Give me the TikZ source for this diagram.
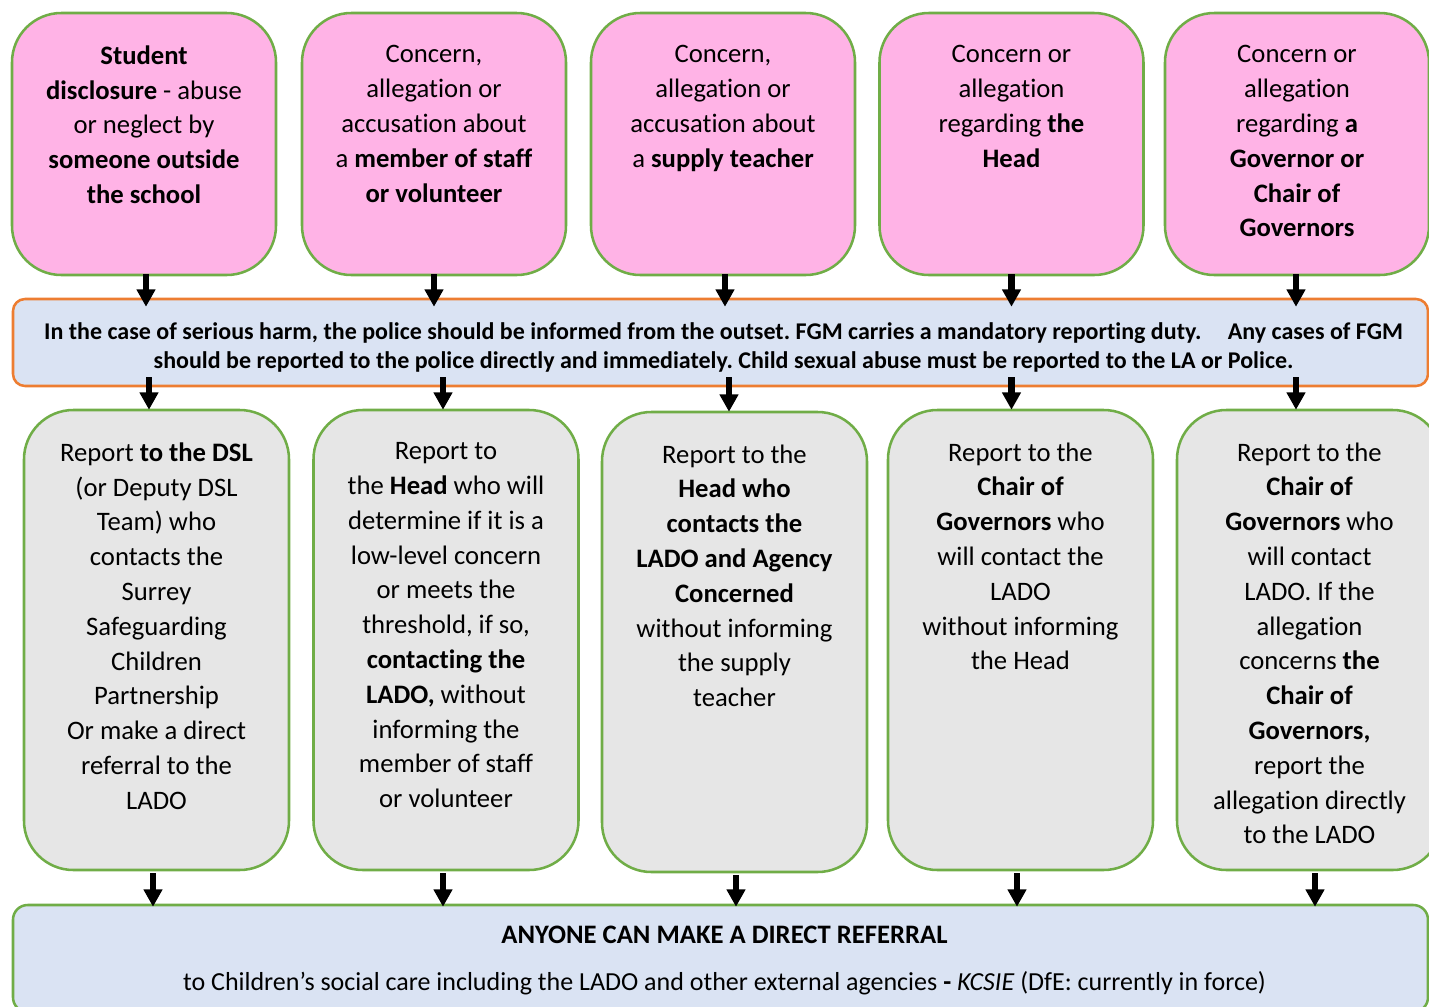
\documentclass[tikz,border=0pt]{standalone}
\usepackage{fontspec}
\setmainfont{Carlito}[Ligatures=NoCommon]
\usetikzlibrary{arrows.meta,calc}
\definecolor{pinkfill}{HTML}{FFB3E6}
\definecolor{grn}{HTML}{70AD47}
\definecolor{org}{HTML}{ED7D31}
\definecolor{bluefill}{HTML}{DAE3F3}
\definecolor{grayfill}{HTML}{E6E6E6}
\begin{document}
\frenchspacing
\begin{tikzpicture}[x=0.75pt,y=-0.75pt,
  topbox/.style={draw=grn,line width=1.9pt,fill=pinkfill,rounded corners=37pt,minimum width=198pt,minimum height=196.5pt,inner sep=0pt},
  midbox/.style={draw=grn,line width=1.9pt,fill=grayfill,rounded corners=37pt,minimum width=198.75pt,minimum height=345pt,inner sep=0pt},
  boxtxt/.style={anchor=north,align=center,inner sep=0pt,font=\fontsize{20}{26.1}\selectfont,execute at begin node=\strut},
  barbox/.style={draw=org,line width=1.9pt,fill=bluefill,rounded corners=9pt,minimum width=1061.25pt,minimum height=65.25pt,inner sep=0pt},
  bartxt/.style={inner sep=0pt,align=center,font=\fontsize{18}{21.75}\selectfont\bfseries},
  botbox/.style={draw=grn,line width=1.9pt,fill=bluefill,rounded corners=11pt,minimum width=1061.25pt,minimum height=80.25pt,inner sep=0pt},
  bottxt/.style={inner sep=0pt,align=center,font=\fontsize{19.5}{35.25}\selectfont},
  arr/.style={line width=4.8pt,-{Triangle[width=13.5pt,length=13pt]}}]
\path[use as bounding box] (0,0) rectangle (1429,1007);
\clip (0,0) rectangle (1429,1007);
% top boxes
\node[topbox] (t1) at (144,144) {};
\node[topbox] (t2) at (434,144) {};
\node[topbox] (t3) at (723,144) {};
\node[topbox] (t4) at (1011.5,144) {};
\node[topbox] (t5) at (1297,144) {};
\node[boxtxt] (t1x) at ([yshift=-25.25pt]t1.north) {\textbf{Student}\\\textbf{disclosure} - abuse\\or neglect by\\\textbf{someone outside}\\\textbf{the school}};
\node[boxtxt] (t2x) at ([yshift=-25.25pt]t2.north) {Concern,\\allegation or\\accusation about\\a \textbf{member of staff}\\\textbf{or volunteer}};
\node[boxtxt] (t3x) at ([yshift=-25.25pt]t3.north) {Concern,\\allegation or\\accusation about\\a \textbf{supply teacher}};
\node[boxtxt] (t4x) at ([yshift=-25.25pt]t4.north) {Concern or\\allegation\\regarding \textbf{the}\\\textbf{Head}};
\node[boxtxt] (t5x) at ([yshift=-25.25pt]t5.north) {Concern or\\allegation\\regarding \textbf{a}\\\textbf{Governor or}\\\textbf{Chair of}\\\textbf{Governors}};
% orange bar
\node[barbox] (bar) at (720.5,342.5) {};
\node[bartxt] (barx) at ([xshift=2.25pt,yshift=-3.4pt]bar.center) {In the case of serious harm, the police should be informed from the outset. FGM carries a mandatory reporting duty.\hspace{1.1em}Any cases of FGM\\should be reported to the police directly and immediately. Child sexual abuse must be reported to the LA or Police.};
% middle boxes
\node[midbox] (g1) at (156.5,640) {};
\node[midbox] (g2) at (446,640) {};
\node[midbox] (g3) at (734.5,642) {};
\node[midbox] (g4) at (1020.5,640) {};
\node[midbox] (g5) at (1309.5,640) {};
\node[boxtxt] (g1x) at ([yshift=-25.25pt]g1.north) {Report \textbf{to the DSL}\\(or Deputy DSL\\Team) who\\contacts the\\Surrey\\Safeguarding\\Children\\Partnership\\Or make a direct\\referral to the\\LADO};
\node[boxtxt] (g2x) at ([yshift=-25.25pt]g2.north) {Report to\\the \textbf{Head} who will\\determine if it is a\\low-level concern\\or meets the\\threshold, if so,\\\textbf{contacting the}\\\textbf{LADO,} without\\informing the\\member of staff\\or volunteer};
\node[boxtxt] (g3x) at ([yshift=-25.25pt]g3.north) {Report to the\\\textbf{Head who}\\\textbf{contacts the}\\\textbf{LADO and Agency}\\\textbf{Concerned}\\without informing\\the supply\\teacher};
\node[boxtxt] (g4x) at ([yshift=-25.25pt]g4.north) {Report to the\\\textbf{Chair of}\\\textbf{Governors} who\\will contact the\\LADO\\without informing\\the Head};
\node[boxtxt] (g5x) at ([yshift=-25.25pt]g5.north) {Report to the\\\textbf{Chair of}\\\textbf{Governors} who\\will contact\\LADO. If the\\allegation\\concerns \textbf{the}\\\textbf{Chair of}\\\textbf{Governors,}\\report the\\allegation directly\\to the LADO};
% bottom bar
\node[botbox] (bot) at (720.5,958.5) {};
\node[bottxt] (botx) at ([xshift=3pt,yshift=-1.5pt]bot.center) {{\fontsize{20}{35.25}\selectfont\textbf{ANYONE CAN MAKE A DIRECT REFERRAL}}\\to Children’s social care including the LADO and other external agencies \textbf{-} \textit{KCSIE} (DfE: currently in force)};
% arrows
\foreach \i/\a/\b/\c in {1/2/5/-3.5, 2/0/9/-3, 3/2/6/1.5, 4/0/0/-3.5, 5/-1/-1/5.5}{
  \draw[arr] ([xshift=\a*0.75pt,yshift=1.5pt]t\i.south) -- ([xshift=\a*0.75pt,yshift=-6.75pt]t\i.south |- bar.north);
  \coordinate (m\i) at ([xshift=\b*0.75pt]t\i.south);
  \draw[arr] ([yshift=7.5pt]m\i |- bar.south) -- ([yshift=-0.75pt]m\i |- g\i.north);
  \draw[arr] ([xshift=\c*0.75pt,yshift=-1.5pt]g\i.south) -- ([xshift=\c*0.75pt,yshift=-2.25pt]g\i.south |- bot.north);
}
\end{tikzpicture}
\end{document}
